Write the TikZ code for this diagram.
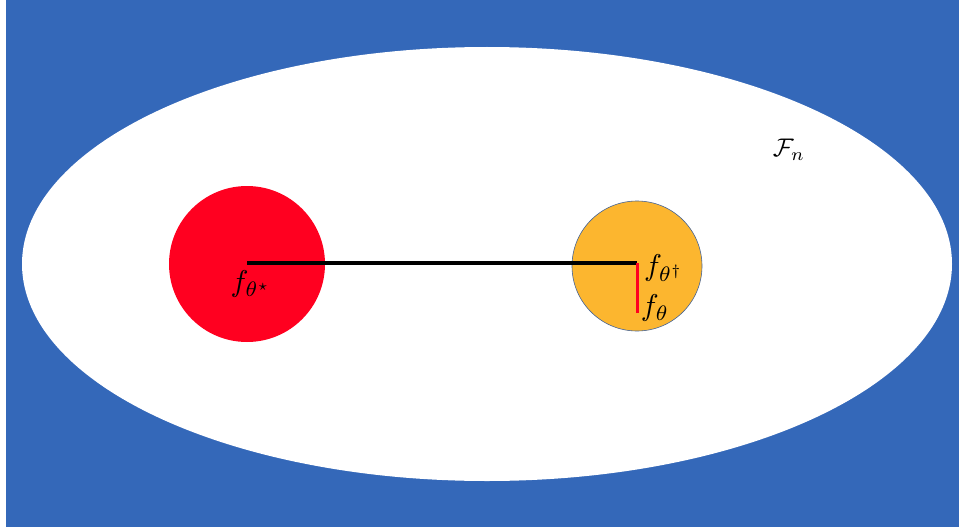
\documentclass[tikz,border=0pt]{standalone}
\usepackage{amsmath}
\usetikzlibrary{shapes.geometric}
\definecolor{bgblue}{RGB}{52,104,185}
\definecolor{bigred}{RGB}{255,0,32}
\definecolor{gold}{RGB}{252,182,47}
\definecolor{rimblue}{RGB}{70,100,150}
\tikzset{
  lbl/.style={inner sep=0pt, scale=3},
}
\begin{document}
\begin{tikzpicture}[x=1pt,y=-1pt]
\useasboundingbox (0,0) rectangle (959,527);
\fill[white] (0,0) rectangle (959,527);
\fill[bgblue] (6,0) rectangle (959,527);
\node[ellipse, fill=white, minimum width=930pt, minimum height=434pt, inner sep=0pt] (space) at (487,264) {};
\node[circle, fill=bigred, minimum size=156pt, inner sep=0pt] (red) at (247,264) {};
\node[circle, fill=gold, draw=rimblue, line width=0.6pt, minimum size=130pt, inner sep=0pt] (gold) at (637,266) {};
\coordinate (star) at (247,263);
\coordinate (dag) at (637,263);
\coordinate (proj) at (637,313);
\draw[black, line width=4pt] (star) -- (dag);
\draw[bigred, line width=3pt] (dag) -- (proj);
\node[lbl] (lstar) at (251,284) {$f_{\theta^\star}$};
\node[lbl] (ldag) at (664,268) {$f_{\theta^\dagger}$};
\node[lbl] (lth) at (655,308) {$f_{\theta}$};
\node[lbl, scale=0.85] (lF) at (789,150) {$\mathcal{F}_n$};
\end{tikzpicture}
\end{document}
